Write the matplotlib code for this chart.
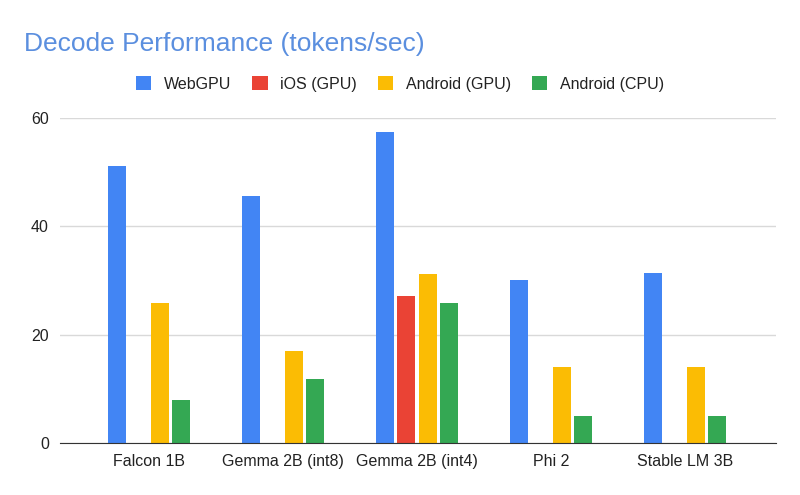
import numpy as np
import matplotlib
matplotlib.use("Agg")
import matplotlib.pyplot as plt
from matplotlib.patches import Patch

plt.rcParams['font.family'] = ['Liberation Sans', 'DejaVu Sans']

models = ["Falcon 1B", "Gemma 2B (int8)", "Gemma 2B (int4)", "Phi 2", "Stable LM 3B"]
series = ["WebGPU", "iOS (GPU)", "Android (GPU)", "Android (CPU)"]
webgpu = [51.2, 45.5, 57.4, 30.0, 31.3]
ios_gpu = [np.nan, np.nan, 27.1, np.nan, np.nan]
android_gpu = [25.8, 17.0, 31.1, 14.0, 14.0]
android_cpu = [7.9, 11.8, 25.8, 5.0, 5.0]
colors = ["#4285f4", "#ea4335", "#fbbc04", "#34a853"]

fig = plt.figure(figsize=(8, 4.95), dpi=100)
ax = fig.add_axes([0.075, 0.105, 0.895, 0.657])

x = np.arange(len(models))
step = 0.16
width = 0.135
for i, (vals, c) in enumerate(zip([webgpu, ios_gpu, android_gpu, android_cpu], colors)):
    ax.bar(x + (i - 1.5) * step, vals, width, color=c, zorder=3)

ax.set_xlim(-0.665, 4.68)
ax.set_ylim(0, 60)
ax.set_yticks([0, 20, 40, 60])
ax.set_xticks(x)
ax.set_xticklabels(models)
ax.tick_params(axis='both', length=0, labelsize=11.5, colors="#222222")
ax.tick_params(axis='x', pad=8)
ax.tick_params(axis='y', pad=8)
ax.yaxis.grid(True, color="#d9d9d9", linewidth=1, zorder=0)
for s in ["top", "right", "left"]:
    ax.spines[s].set_visible(False)
ax.spines["bottom"].set_color("#333333")
ax.spines["bottom"].set_zorder(4)

fig.text(0.03, 0.912, "Decode Performance (tokens/sec)", color="#5b8fdf",
         fontsize=19, va="center", ha="left")

handles = [Patch(facecolor=c, edgecolor="none") for c in colors]
fig.legend(handles, series, loc="center", bbox_to_anchor=(0.5, 0.83), ncol=4,
           frameon=False, fontsize=11.5, handlelength=0.95, handleheight=0.95,
           handletextpad=0.8, columnspacing=1.3, labelcolor="#222222")

fig.savefig("out.png", dpi=100)
